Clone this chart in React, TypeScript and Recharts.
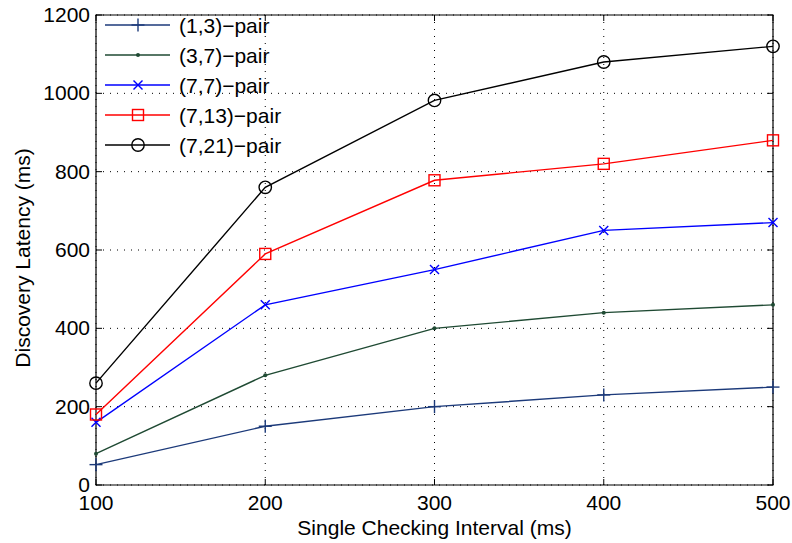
import React from "react";
import {
  LineChart,
  Line,
  XAxis,
  YAxis,
  CartesianGrid,
  ReferenceArea,
  Legend,
} from "recharts";

const intervals = [100, 200, 300, 400, 500];
const pair13 = [52, 150, 200, 230, 250];
const pair37 = [80, 280, 400, 440, 460];
const pair77 = [160, 460, 550, 650, 670];
const pair713 = [180, 590, 778, 820, 880];
const pair721 = [260, 760, 982, 1080, 1120];

const xTicks = [100, 200, 300, 400, 500];
const yTicks = [0, 200, 400, 600, 800, 1000, 1200];

type MarkerKind = "plus" | "dot" | "cross" | "square" | "circle";

const SERIES: { key: string; name: string; color: string; marker: MarkerKind }[] = [
  { key: "p13", name: "(1,3)\u2212pair", color: "#1c3a7a", marker: "plus" },
  { key: "p37", name: "(3,7)\u2212pair", color: "#1f4a33", marker: "dot" },
  { key: "p77", name: "(7,7)\u2212pair", color: "#0000ff", marker: "cross" },
  { key: "p713", name: "(7,13)\u2212pair", color: "#ff0000", marker: "square" },
  { key: "p721", name: "(7,21)\u2212pair", color: "#000000", marker: "circle" },
];

const data = intervals.map((x, i) => ({
  x,
  p13: pair13[i],
  p37: pair37[i],
  p77: pair77[i],
  p713: pair713[i],
  p721: pair721[i],
}));

const W = 792;
const H = 543;
const PLOT_TOP = 15;
const PLOT_LEFT = 96;
const PLOT_RIGHT = 773;
const FONT = "'Liberation Sans', Arial, Helvetica, sans-serif";

function Marker({ kind, cx, cy, color }: { kind: MarkerKind; cx: number; cy: number; color: string }) {
  const sw = 1.4;
  switch (kind) {
    case "plus":
      return (
        <g stroke={color} strokeWidth={sw}>
          <line x1={cx - 6.5} y1={cy} x2={cx + 6.5} y2={cy} />
          <line x1={cx} y1={cy - 6.5} x2={cx} y2={cy + 6.5} />
        </g>
      );
    case "dot":
      return <circle cx={cx} cy={cy} r={2} fill={color} stroke="none" />;
    case "cross":
      return (
        <g stroke={color} strokeWidth={sw}>
          <line x1={cx - 4.5} y1={cy - 4.5} x2={cx + 4.5} y2={cy + 4.5} />
          <line x1={cx - 4.5} y1={cy + 4.5} x2={cx + 4.5} y2={cy - 4.5} />
        </g>
      );
    case "square":
      return <rect x={cx - 5.5} y={cy - 5.5} width={11} height={11} fill="none" stroke={color} strokeWidth={sw} />;
    case "circle":
      return <circle cx={cx} cy={cy} r={6.2} fill="none" stroke={color} strokeWidth={sw} />;
  }
  return null;
}

function XTick(props: any) {
  const { x, y, payload } = props;
  return (
    <g>
      <line x1={x} y1={y} x2={x} y2={y - 6} stroke="#000" />
      <line x1={x} y1={PLOT_TOP} x2={x} y2={PLOT_TOP + 6} stroke="#000" />
      <text x={x} y={y + 25} textAnchor="middle" fontSize={21} fontFamily={FONT} fill="#000">
        {payload.value}
      </text>
    </g>
  );
}

function YTick(props: any) {
  const { x, y, payload } = props;
  return (
    <g>
      <line x1={x} y1={y} x2={x + 6} y2={y} stroke="#000" />
      <line x1={PLOT_RIGHT} y1={y} x2={PLOT_RIGHT - 6} y2={y} stroke="#000" />
      <text x={x - 6} y={y + 7} textAnchor="end" fontSize={21} fontFamily={FONT} fill="#000">
        {payload.value}
      </text>
    </g>
  );
}

function LegendBox() {
  return (
    <svg width={300} height={170} style={{ display: "block", overflow: "visible" }}>
      {SERIES.map((s, i) => {
        const y = 25 + i * 30;
        return (
          <g key={s.key}>
            <line x1={105} y1={y} x2={170} y2={y} stroke={s.color} strokeWidth={1.4} />
            <Marker kind={s.marker} cx={138} cy={y} color={s.color} />
            <text x={179} y={y + 7.5} fontSize={21} fontFamily={FONT} fill="#000">
              {s.name}
            </text>
          </g>
        );
      })}
    </svg>
  );
}

export default function App() {
  return (
    <div style={{ position: "absolute", left: 0, top: 0, width: W, height: H, background: "#fff" }}>
      <LineChart width={W} height={H} data={data} margin={{ top: PLOT_TOP, right: W - PLOT_RIGHT, bottom: 8, left: PLOT_LEFT - 60 }}>
        <CartesianGrid stroke="#000" strokeDasharray="1 6" strokeWidth={1} />
        <XAxis
          dataKey="x"
          type="number"
          domain={[100, 500]}
          ticks={xTicks}
          height={50}
          axisLine={false}
          tickLine={false}
          tickSize={0}
          tickMargin={0}
          tick={<XTick />}
          interval={0}
          label={{
            content: (p: any) => {
              const vb = p.viewBox;
              return (
                <text x={vb.x + vb.width / 2} y={535} textAnchor="middle" fontSize={21} fontFamily={FONT} fill="#000">
                  Single Checking Interval (ms)
                </text>
              );
            },
          }}
        />
        <YAxis
          type="number"
          domain={[0, 1200]}
          ticks={yTicks}
          width={60}
          axisLine={false}
          tickLine={false}
          tickSize={0}
          tickMargin={0}
          tick={<YTick />}
          interval={0}
          label={{
            content: () => (
              <text x={30} y={258} transform="rotate(-90 30 258)" textAnchor="middle" fontSize={21} fontFamily={FONT} fill="#000">
                Discovery Latency (ms)
              </text>
            ),
          }}
        />
        <ReferenceArea x1={100} x2={500} y1={0} y2={1200} fill="none" fillOpacity={0} stroke="#000" strokeWidth={1.2} ifOverflow="visible" />
        <Legend
          layout="vertical"
          align="center"
          verticalAlign="middle"
          content={() => <LegendBox />}
          wrapperStyle={{ position: "absolute", left: 0, top: 0, width: 300, height: 170 }}
        />
        {SERIES.map((s) => (
          <Line
            key={s.key}
            dataKey={s.key}
            name={s.name}
            stroke={s.color}
            strokeWidth={1.4}
            isAnimationActive={false}
            dot={(p: any) => <Marker key={`${s.key}-${p.index}`} kind={s.marker} cx={p.cx} cy={p.cy} color={s.color} />}
            activeDot={false}
          />
        ))}
      </LineChart>
    </div>
  );
}
